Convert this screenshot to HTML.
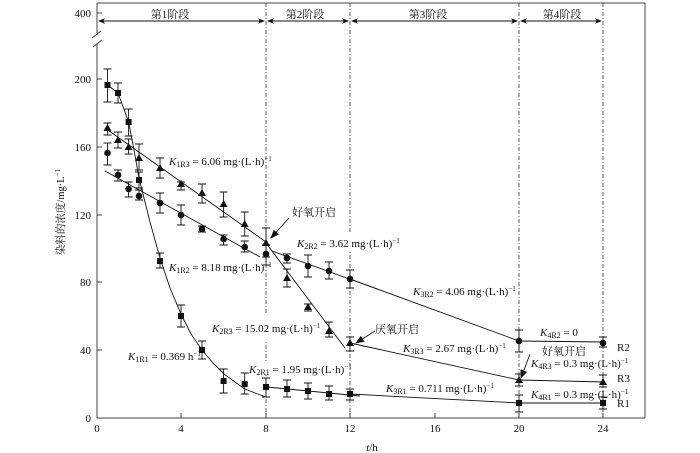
<!DOCTYPE html>
<html><head><meta charset="utf-8">
<style>
html,body{margin:0;padding:0;background:#fff;}
svg{display:block;}
text{font-family:"Liberation Serif","Noto Serif CJK SC",serif;fill:#111;}
.cj{font-family:"Liberation Serif","Noto Serif CJK SC","Noto Sans CJK SC",serif;}
</style></head>
<body>
<svg width="700" height="453" viewBox="0 0 700 453" xmlns="http://www.w3.org/2000/svg">
<defs>
<marker id="ah" markerUnits="userSpaceOnUse" markerWidth="7" markerHeight="6" refX="6" refY="3" orient="auto-start-reverse"><path d="M0,0.3 L7,3 L0,5.7 L1.8,3 z" fill="#111"/></marker>
<marker id="ab" markerUnits="userSpaceOnUse" markerWidth="9" markerHeight="7" refX="8" refY="3.5" orient="auto"><path d="M0,0 L9,3.5 L0,7 z" fill="#111"/></marker>
</defs>

<!-- frame -->
<g stroke="#444" stroke-width="1" fill="none">
<line x1="97" y1="3" x2="645" y2="3"/>
<line x1="645" y1="3" x2="645" y2="418"/>
<line x1="97" y1="418" x2="645" y2="418"/>
<line x1="97" y1="3" x2="97" y2="35"/>
<line x1="97" y1="44" x2="97" y2="418"/>
<line x1="92" y1="38" x2="101" y2="31"/>
<line x1="93" y1="47" x2="102" y2="40"/>
</g>
<!-- ticks -->
<g stroke="#444" stroke-width="1">
<line x1="97" y1="13" x2="102" y2="13"/>
<line x1="97" y1="79" x2="102" y2="79"/>
<line x1="97" y1="147" x2="102" y2="147"/>
<line x1="97" y1="215" x2="102" y2="215"/>
<line x1="97" y1="282" x2="102" y2="282"/>
<line x1="97" y1="350" x2="102" y2="350"/>
<line x1="181" y1="418" x2="181" y2="413"/>
<line x1="266" y1="418" x2="266" y2="413"/>
<line x1="350" y1="418" x2="350" y2="413"/>
<line x1="435" y1="418" x2="435" y2="413"/>
<line x1="519" y1="418" x2="519" y2="413"/>
<line x1="603" y1="418" x2="603" y2="413"/>
</g>
<g font-size="11" text-anchor="end">
<text x="91" y="17">400</text>
<text x="91" y="83">200</text>
<text x="91" y="151">160</text>
<text x="91" y="219">120</text>
<text x="91" y="286">80</text>
<text x="91" y="354">40</text>
<text x="91" y="422">0</text>
</g>
<g font-size="11" text-anchor="middle">
<text x="97" y="432">0</text>
<text x="181" y="432">4</text>
<text x="266" y="432">8</text>
<text x="350" y="432">12</text>
<text x="435" y="432">16</text>
<text x="519" y="432">20</text>
<text x="603" y="432">24</text>
<text x="372" y="451"><tspan font-style="italic">t</tspan>/h</text>
</g>
<text class="cj" font-size="10.5" text-anchor="middle" transform="translate(64,212) rotate(-90)">染料的浓度/mg·L<tspan font-size="7" dy="-4">−1</tspan></text>

<!-- dashed verticals -->
<g stroke="#333" stroke-width="0.8" stroke-dasharray="4 2 1 2" fill="none">
<line x1="266" y1="3" x2="266" y2="418"/>
<line x1="350" y1="3" x2="350" y2="418"/>
<line x1="519" y1="3" x2="519" y2="418"/>
<line x1="603" y1="3" x2="603" y2="418"/>
</g>

<!-- stage arrows -->
<g stroke="#111" stroke-width="0.9" fill="none">
<line x1="99" y1="21" x2="264" y2="21" marker-start="url(#ah)" marker-end="url(#ah)"/>
<line x1="268" y1="21" x2="348" y2="21" marker-start="url(#ah)" marker-end="url(#ah)"/>
<line x1="352" y1="21" x2="517" y2="21" marker-start="url(#ah)" marker-end="url(#ah)"/>
<line x1="521" y1="21" x2="601" y2="21" marker-start="url(#ah)" marker-end="url(#ah)"/>
</g>
<g class="cj" font-size="11" text-anchor="middle">
<text x="170" y="18">第1阶段</text>
<text x="305" y="18">第2阶段</text>
<text x="428" y="18">第3阶段</text>
<text x="562" y="18">第4阶段</text>
</g>

<!-- label backgrounds -->
<g fill="#fff">
<rect x="212" y="313" width="100" height="28"/>
<rect x="296" y="234" width="96" height="18"/>
<rect x="249" y="361" width="95" height="14"/>
</g>

<!-- fit lines -->
<g stroke="#111" stroke-width="0.9" fill="none" stroke-linejoin="round">
<polyline points="107.5,85 118,93 128.6,122 134,150 139,178 150,222 160,258 170,288 181,314 191,334 202,350 213,363 224,374 235,382 245,389 255,393 266,397"/>
<line x1="267" y1="387" x2="360" y2="396"/>
<line x1="350" y1="394" x2="519" y2="403"/>
<line x1="519" y1="403" x2="604" y2="403"/>
<line x1="105" y1="171" x2="260" y2="257"/>
<line x1="272" y1="251" x2="380" y2="290"/>
<line x1="350" y1="279" x2="519" y2="341"/>
<line x1="519" y1="341" x2="604" y2="342"/>
<line x1="105" y1="128" x2="266" y2="242"/>
<line x1="266" y1="243" x2="345" y2="348"/>
<line x1="350" y1="343" x2="519" y2="380"/>
<line x1="519" y1="380" x2="604" y2="382"/>
</g>

<!-- error bars -->
<g stroke="#111" stroke-width="0.9" fill="none">
<path d="
M107.5,69V102M103.5,69h8M103.5,102h8
M118,83V103M114,83h8M114,103h8
M128.6,109V136M124.6,109h8M124.6,136h8
M139,172V188M135,172h8M135,188h8
M160,253V268M156,253h8M156,268h8
M181,305V327M177,305h8M177,327h8
M202,341V359M198,341h8M198,359h8
M223.6,369V393M219.6,369h8M219.6,393h8
M244.7,373V394M240.7,373h8M240.7,394h8
M266,378V397M262,378h8M262,397h8
M287,380V397M283,380h8M283,397h8
M308,383V399M304,383h8M304,399h8
M329,386V400M325,386h8M325,400h8
M350,389V400M346,389h8M346,400h8
M519,395V412M515,395h8M515,412h8
M603,397V409M599,397h8M599,409h8
"/>
<path d="
M107.5,143V165M103.5,143h8M103.5,165h8
M118,170V181M114,170h8M114,181h8
M128.6,182V197M124.6,182h8M124.6,197h8
M139,190V200M135,190h8M135,200h8
M160,193V213M156,193h8M156,213h8
M181,205V225M177,205h8M177,225h8
M202,226V232M198,226h8M198,232h8
M223.6,235V245M219.6,235h8M219.6,245h8
M244.7,241V252M240.7,241h8M240.7,252h8
M266,245V265M262,245h8M262,265h8
M287,254V263M283,254h8M283,263h8
M308,255V277M304,255h8M304,277h8
M329,262V279M325,262h8M325,279h8
M350,270V288M346,270h8M346,288h8
M519,330V352M515,330h8M515,352h8
M603,337V347M599,337h8M599,347h8
"/>
<path d="
M107.5,123V135M103.5,123h8M103.5,135h8
M118,132V148M114,132h8M114,148h8
M128.6,139V154M124.6,139h8M124.6,154h8
M139,144V170M135,144h8M135,170h8
M160,158V178M156,158h8M156,178h8
M181,182V190M177,182h8M177,190h8
M202,184V203M198,184h8M198,203h8
M223.6,192V217M219.6,192h8M219.6,217h8
M244.7,212V236M240.7,212h8M240.7,236h8
M266,228V257M262,228h8M262,257h8
M287,269V287M283,269h8M283,287h8
M308,304V311M304,304h8M304,311h8
M329,322V337M325,322h8M325,337h8
M350,337V351M346,337h8M346,351h8
M519,374V386M515,374h8M515,386h8
M603,375V387M599,375h8M599,387h8
"/>
</g>

<!-- markers R1 squares -->
<g fill="#111">
<rect x="104.5" y="82" width="6" height="6"/>
<rect x="115" y="90" width="6" height="6"/>
<rect x="125.6" y="119" width="6" height="6"/>
<rect x="136" y="177" width="6" height="6"/>
<rect x="157" y="258" width="6" height="6"/>
<rect x="178" y="313" width="6" height="6"/>
<rect x="199" y="347" width="6" height="6"/>
<rect x="220.6" y="378" width="6" height="6"/>
<rect x="241.7" y="381" width="6" height="6"/>
<rect x="263" y="384" width="6" height="6"/>
<rect x="284" y="386" width="6" height="6"/>
<rect x="305" y="388" width="6" height="6"/>
<rect x="326" y="391" width="6" height="6"/>
<rect x="347" y="391" width="6" height="6"/>
<rect x="516" y="400" width="6" height="6"/>
<rect x="600" y="400" width="6" height="6"/>
</g>
<!-- R2 circles -->
<g fill="#111">
<circle cx="107.5" cy="153" r="3.3"/>
<circle cx="118" cy="175" r="3.3"/>
<circle cx="128.6" cy="189" r="3.3"/>
<circle cx="139" cy="196" r="3.3"/>
<circle cx="160" cy="203" r="3.3"/>
<circle cx="181" cy="215" r="3.3"/>
<circle cx="202" cy="229" r="3.3"/>
<circle cx="223.6" cy="239" r="3.3"/>
<circle cx="244.7" cy="247" r="3.3"/>
<circle cx="266" cy="254" r="3.3"/>
<circle cx="287" cy="258" r="3.3"/>
<circle cx="308" cy="266" r="3.3"/>
<circle cx="329" cy="271" r="3.3"/>
<circle cx="350" cy="279" r="3.3"/>
<circle cx="519" cy="341" r="3.3"/>
<circle cx="603" cy="343" r="3.3"/>
</g>
<!-- R3 triangles -->
<g fill="#111">
<path d="M107.5,124l4,7h-8z"/>
<path d="M118,136l4,7h-8z"/>
<path d="M128.6,143l4,7h-8z"/>
<path d="M139,154l4,7h-8z"/>
<path d="M160,164l4,7h-8z"/>
<path d="M181,180l4,7h-8z"/>
<path d="M202,189l4,7h-8z"/>
<path d="M223.6,200l4,7h-8z"/>
<path d="M244.7,220l4,7h-8z"/>
<path d="M266,239l4,7h-8z"/>
<path d="M287,274l4,7h-8z"/>
<path d="M308,303l4,7h-8z"/>
<path d="M329,327l4,7h-8z"/>
<path d="M350,339l4,7h-8z"/>
<path d="M519,376l4,7h-8z"/>
<path d="M603,378l4,7h-8z"/>
</g>

<!-- annotation arrows -->
<g stroke="#111" stroke-width="0.9" fill="none">
<line x1="289" y1="218" x2="271" y2="238" marker-end="url(#ab)"/>
<line x1="375" y1="331" x2="356" y2="343" marker-end="url(#ab)"/>
<line x1="530" y1="354" x2="521" y2="378" marker-end="url(#ab)"/>
</g>

<!-- annotations -->
<g font-size="11">
<text x="169" y="165"><tspan font-style="italic">K</tspan><tspan font-size="8" dy="2">1R3</tspan><tspan dy="-2"> = 6.06 mg·(L·h)</tspan><tspan font-size="7" dy="-4">−1</tspan></text>
<text x="169" y="271"><tspan font-style="italic">K</tspan><tspan font-size="8" dy="2">1R2</tspan><tspan dy="-2"> = 8.18 mg·(L·h)</tspan><tspan font-size="7" dy="-4">−1</tspan></text>
<text x="297" y="247"><tspan font-style="italic">K</tspan><tspan font-size="8" dy="2">2R2</tspan><tspan dy="-2"> = 3.62 mg·(L·h)</tspan><tspan font-size="7" dy="-4">−1</tspan></text>
<text x="212" y="332"><tspan font-style="italic">K</tspan><tspan font-size="8" dy="2">2R3</tspan><tspan dy="-2"> = 15.02 mg·(L·h)</tspan><tspan font-size="7" dy="-4">−1</tspan></text>
<text x="128" y="360"><tspan font-style="italic">K</tspan><tspan font-size="8" dy="2">1R1</tspan><tspan dy="-2"> = 0.369 h</tspan><tspan font-size="7" dy="-4">−1</tspan></text>
<text x="249" y="373"><tspan font-style="italic">K</tspan><tspan font-size="8" dy="2">2R1</tspan><tspan dy="-2"> = 1.95 mg·(L·h)</tspan><tspan font-size="7" dy="-4">−1</tspan></text>
<text x="413" y="295"><tspan font-style="italic">K</tspan><tspan font-size="8" dy="2">3R2</tspan><tspan dy="-2"> = 4.06 mg·(L·h)</tspan><tspan font-size="7" dy="-4">−1</tspan></text>
<text x="403" y="352"><tspan font-style="italic">K</tspan><tspan font-size="8" dy="2">3R3</tspan><tspan dy="-2"> = 2.67 mg·(L·h)</tspan><tspan font-size="7" dy="-4">−1</tspan></text>
<text x="540" y="336"><tspan font-style="italic">K</tspan><tspan font-size="8" dy="2">4R2</tspan><tspan dy="-2"> = 0</tspan></text>
<text x="531" y="367"><tspan font-style="italic">K</tspan><tspan font-size="8" dy="2">4R3</tspan><tspan dy="-2"> = 0.3 mg·(L·h)</tspan><tspan font-size="7" dy="-4">−1</tspan></text>
<text x="386" y="392"><tspan font-style="italic">K</tspan><tspan font-size="8" dy="2">3R1</tspan><tspan dy="-2"> = 0.711 mg·(L·h)</tspan><tspan font-size="7" dy="-4">−1</tspan></text>
<text x="531" y="398"><tspan font-style="italic">K</tspan><tspan font-size="8" dy="2">4R1</tspan><tspan dy="-2"> = 0.3 mg·(L·h)</tspan><tspan font-size="7" dy="-4">−1</tspan></text>
<text x="617" y="351">R2</text>
<text x="617" y="382">R3</text>
<text x="617" y="407">R1</text>
</g>
<g class="cj" font-size="11">
<text x="292" y="216">好氧开启</text>
<text x="375" y="333">厌氧开启</text>
<text x="542" y="355">好氧开启</text>
</g>
</svg>
</body></html>
